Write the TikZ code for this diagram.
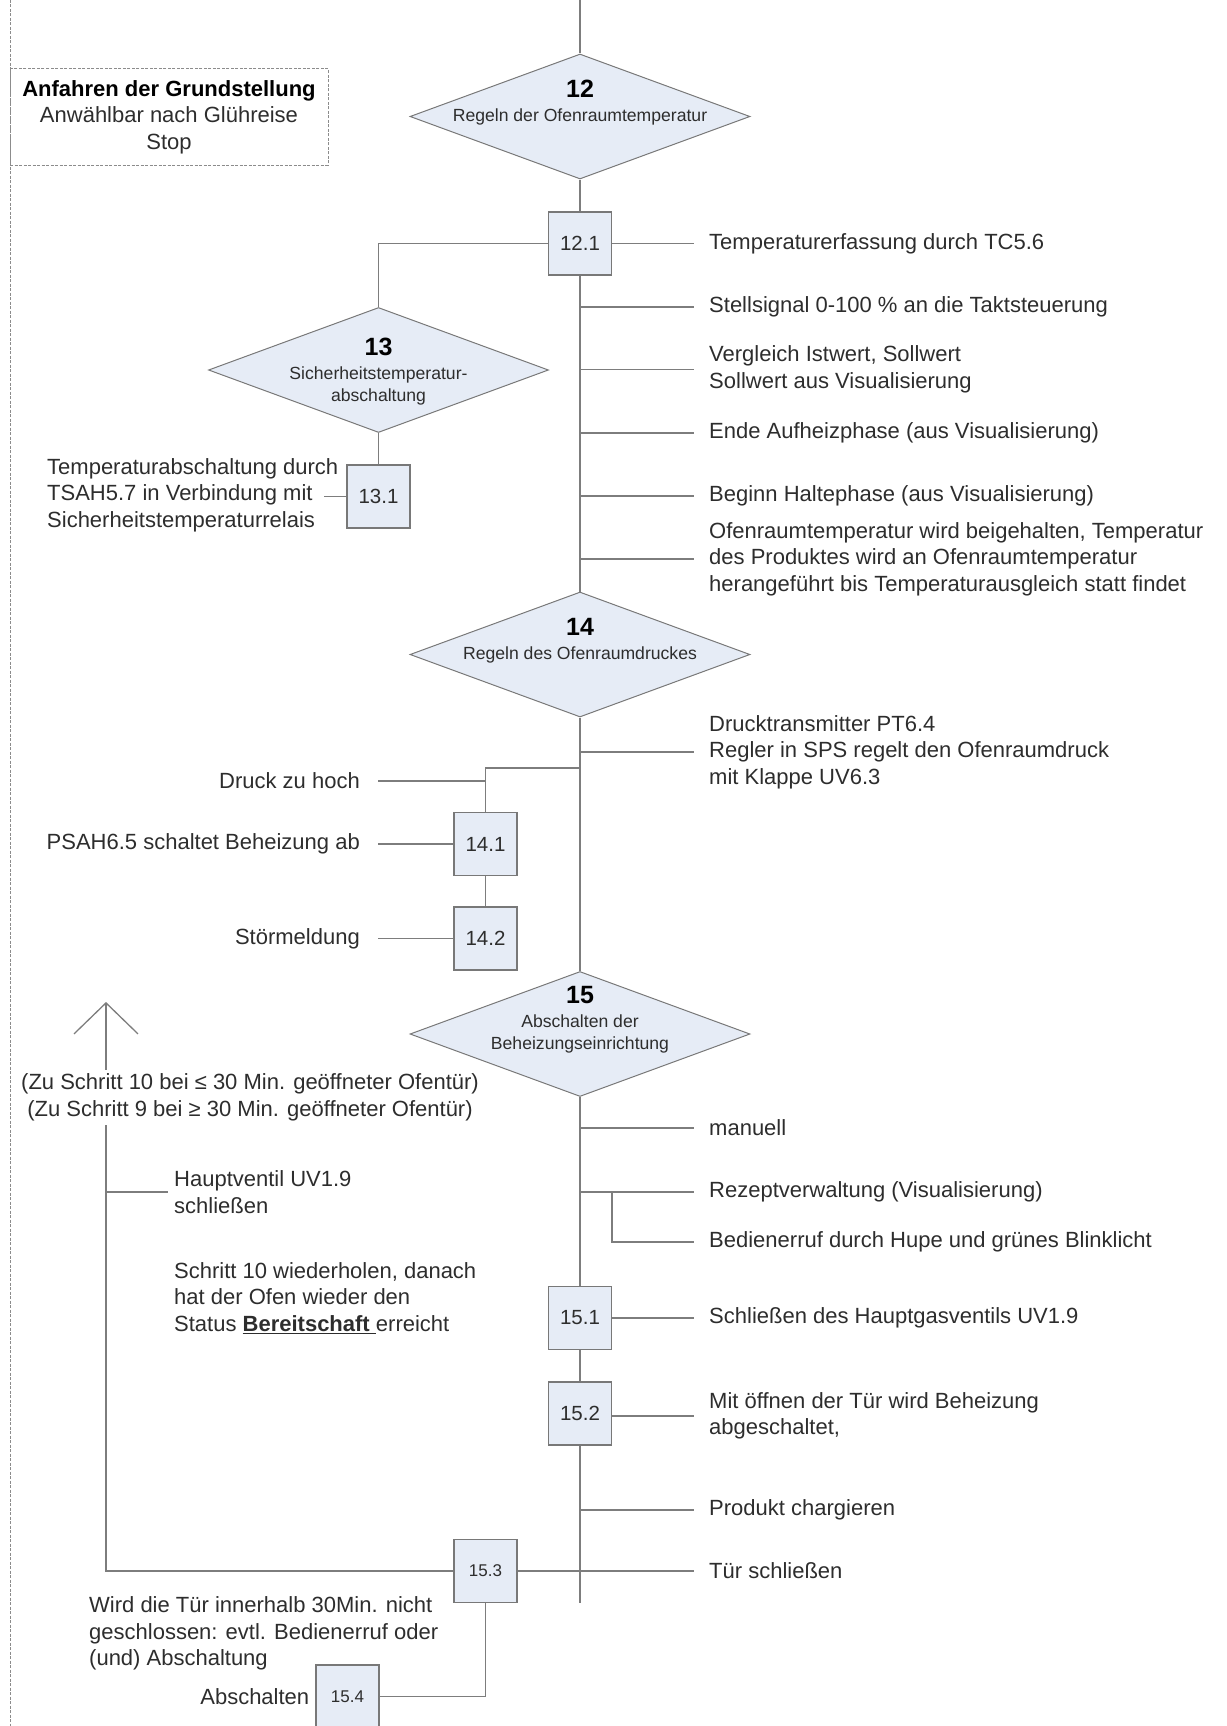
\documentclass[tikz,border=0pt]{standalone}
\usepackage{fontspec}
\setmainfont{Liberation Sans}
\usepackage{tikz}
\usetikzlibrary{shapes.geometric, arrows.meta, positioning, calc}
\definecolor{linegray}{RGB}{125,125,125}
\definecolor{txtgray}{RGB}{45,45,45}
\definecolor{stepfill}{RGB}{230,236,246}
\definecolor{stepdraw}{RGB}{120,120,120}
\definecolor{dashgray}{RGB}{140,140,140}
\newcommand{\notefont}{\fontsize{22}{26.5}\selectfont}
\newcommand{\titlefont}{\fontsize{17.6}{22.5}\selectfont}
\newcommand{\numfont}{\fontsize{25}{28}\selectfont\bfseries}

\begin{document}
\begin{tikzpicture}[
    x=1pt, y=-1pt,
    link/.style={draw=linegray, line width=1.3pt},
    stepdiamond/.style={diamond, draw=stepdraw, fill=stepfill, line width=1pt, minimum width=340pt, minimum height=125pt, inner sep=0pt},
    stepbox/.style={rectangle, draw=stepdraw, fill=stepfill, line width=1.2pt, minimum width=63pt, minimum height=63pt, inner sep=0pt, font=\fontsize{20.5}{24}\selectfont, text=txtgray},
    stepnum/.style={font=\numfont, text=black, inner sep=0pt},
    steptitle/.style={font=\titlefont, text=txtgray, align=center, inner sep=0pt},
    sidenote/.style={font=\notefont, text=txtgray, align=left, anchor=west, inner xsep=15pt, inner ysep=0pt},
    lnote/.style={font=\notefont, text=txtgray, align=right, anchor=east, inner xsep=18pt, inner ysep=0pt},
    plain/.style={font=\notefont, text=txtgray, align=left, anchor=west, inner sep=0pt},
    dashline/.style={draw=dashgray, line width=1pt, dash pattern=on 3pt off 1.5pt}
]
\useasboundingbox (0,0) rectangle (1226,1726);

% left border and start box
\draw[dashline] (10,0) -- (10,1726);
\node[dashline, minimum width=318pt, minimum height=96pt, align=center, font=\notefont, text=txtgray] (start) at (169,117)
    {\textcolor{black}{\textbf{Anfahren der Grundstellung}}\\Anwählbar nach Glühreise\\Stop};

% step 12
\coordinate (top) at (580,0);
\node[stepdiamond] (d12) at (580,116.5) {};
\node[stepnum] at ([yshift=28pt]d12.center) {12};
\node[steptitle] at (d12.center) {Regeln der Ofenraumtemperatur};
\node[stepbox] (b121) at (580,243.5) {12.1};
\draw[link] (top) -- (d12.north);
\draw[link] (d12.south) -- (b121.north);

\node[sidenote] (n121) at (694,243.5) {Temperaturerfassung durch TC5.6};
\node[sidenote] (n122) at (694,307) {Stellsignal 0-100 \% an die Taktsteuerung};
\node[sidenote] (n123) at (694,369.5) {Vergleich Istwert, Sollwert\\Sollwert aus Visualisierung};
\node[sidenote] (n124) at (694,433) {Ende Aufheizphase (aus Visualisierung)};
\node[sidenote] (n125) at (694,496) {Beginn Haltephase (aus Visualisierung)};
\node[sidenote] (n126) at (694,559) {Ofenraumtemperatur wird beigehalten, Temperatur\\des Produktes wird an Ofenraumtemperatur\\herangeführt bis Temperaturausgleich statt findet};
\draw[link] (b121.east) -- (n121.west);
\draw[link] (b121 |- n122.west) -- (n122.west);
\draw[link] (b121 |- n123.west) -- (n123.west);
\draw[link] (b121 |- n124.west) -- (n124.west);
\draw[link] (b121 |- n125.west) -- (n125.west);
\draw[link] (b121 |- n126.west) -- (n126.west);

% step 13
\node[stepdiamond] (d13) at (378.5,370) {};
\node[stepnum] at ([yshift=23pt]d13.center) {13};
\node[steptitle] at ([yshift=-16pt]d13.center) {Sicherheitstemperatur-\\abschaltung};
\node[stepbox] (b131) at (378.5,496.5) {13.1};
\draw[link] (b121.west) -| (d13.north);
\draw[link] (d13.south) -- (b131.north);
\coordinate (t131) at (324,496.5);
\draw[link] (b131.west) -- (t131);
\node[plain] (n131) at (47,495) {Temperaturabschaltung durch\\TSAH5.7 in Verbindung mit\\Sicherheitstemperaturrelais};

% step 14
\node[stepdiamond] (d14) at (580,654.5) {};
\node[stepnum] at ([yshift=27.5pt]d14.center) {14};
\node[steptitle] at (d14.center) {Regeln des Ofenraumdruckes};
\draw[link] (b121.south) -- (d14.north);
\node[sidenote] (n14a) at (694,752) {Drucktransmitter PT6.4\\Regler in SPS regelt den Ofenraumdruck\\mit Klappe UV6.3};
\draw[link] (d14.south |- n14a.west) -- (n14a.west);

\node[stepbox] (b141) at (485.5,844) {14.1};
\node[stepbox] (b142) at (485.5,938.5) {14.2};
\coordinate (br14) at (580,768);
\draw[link] (br14) -| (b141.north);
\draw[link] (b141.south) -- (b142.north);
\node[lnote] (n14b) at (378,781) {Druck zu hoch};
\node[lnote] (n141) at (378,844) {PSAH6.5 schaltet Beheizung ab};
\node[lnote] (n142) at (378,938.5) {Störmeldung};
\draw[link] (b141 |- n14b.east) -- (n14b.east);
\draw[link] (b141.west) -- (n141.east);
\draw[link] (b142.west) -- (n142.east);

% step 15
\node[stepdiamond] (d15) at (580,1034) {};
\node[stepnum] at ([yshift=39pt]d15.center) {15};
\node[steptitle] at (d15.center) {Abschalten der\\Beheizungseinrichtung};
\draw[link] (d14.south) -- (d15.north);

\node[sidenote] (n15a) at (694,1128) {manuell};
\node[sidenote] (n15b) at (694,1192) {Rezeptverwaltung (Visualisierung)};
\node[sidenote] (n15c) at (694,1242) {Bedienerruf durch Hupe und grünes Blinklicht};
\draw[link] (d15.south |- n15a.west) -- (n15a.west);
\draw[link] (d15.south |- n15b.west) -- (n15b.west);
\coordinate (br15) at (612,1192);
\draw[link] (br15) |- (n15c.west);

\node[stepbox] (b151) at (580,1318) {15.1};
\node[stepbox] (b152) at (580,1413.5) {15.2};
\coordinate (bottom) at (580,1603);
\draw[link] (d15.south) -- (b151.north);
\draw[link] (b151.south) -- (b152.north);
\draw[link] (b152.south) -- (bottom);

\node[sidenote] (n151) at (694,1318) {Schließen des Hauptgasventils UV1.9};
\node[sidenote] (n152) at (694,1416) {Mit öffnen der Tür wird Beheizung\\abgeschaltet,};
\node[sidenote] (n15d) at (694,1510) {Produkt chargieren};
\node[sidenote] (n15e) at (694,1571) {Tür schließen};
\draw[link] (b151.east) -- (n151.west);
\draw[link] (b152.east |- n152.west) -- (n152.west);
\draw[link] (b152 |- n15d.west) -- (n15d.west);

% door closed: back to step 10 / 9
\node[stepbox, font=\fontsize{17}{20}\selectfont] (b153) at (485.5,1571) {15.3};
\draw[link] (b153.east) -- (n15e.west);
\coordinate (ret1) at (106,1571);
\coordinate (ret2) at (106,1002);
\draw[link, -{Straight Barb[length=31pt, width=64pt]}] (b153.west) -- (ret1) -- (ret2);
\node[font=\notefont, text=txtgray, fill=white, align=center, inner xsep=0pt, inner ysep=4pt] (back) at (250,1097.5)
    {(Zu Schritt 10 bei ≤ 30 Min. geöffneter Ofentür)\\(Zu Schritt 9 bei ≥ 30 Min. geöffneter Ofentür)};
\node[sidenote, inner xsep=6pt] (n15f) at (168,1192) {Hauptventil UV1.9\\schließen};
\draw[link] (ret1 |- n15f.west) -- (n15f.west);
\node[plain] (n15g) at (174,1298) {Schritt 10 wiederholen, danach\\hat der Ofen wieder den\\Status \underline{\textbf{Bereitschaft }}erreicht};

% door not closed
\node[plain] (n15h) at (89,1633.5) {Wird die Tür innerhalb 30Min. nicht\\geschlossen: evtl. Bedienerruf oder\\(und) Abschaltung};
\node[stepbox, font=\fontsize{17}{20}\selectfont] (b154) at (347.5,1696.5) {15.4};
\draw[link] (b153.south) |- (b154.east);
\node[lnote, inner xsep=6pt] (n154) at (b154.west) {Abschalten};

\end{tikzpicture}
\end{document}
